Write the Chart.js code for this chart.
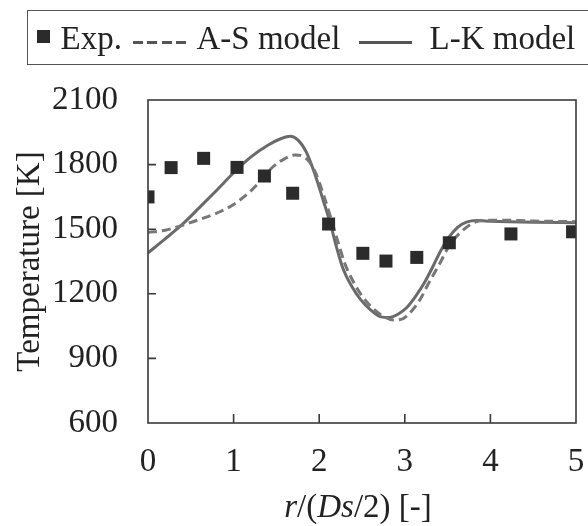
<!DOCTYPE html>
<html>
<head>
<meta charset="utf-8">
<script src="https://cdn.jsdelivr.net/npm/chart.js@4.4.0/dist/chart.umd.min.js"></script>
<style>
  html, body { margin: 0; padding: 0; background: #fff; }
  #wrap { position: relative; width: 588px; height: 526px; overflow: hidden; }
  #myChart { position: absolute; left: 0; top: 0; }
  .legend {
    position: absolute; left: 27px; top: 10px; width: 620px; height: 53px;
    border: 1.5px solid #555;
    font-family: "Liberation Serif", "Times New Roman", serif; font-size: 33px; color: #222;
  }
  .legend span { position: absolute; top: 11px; line-height: 33px; white-space: nowrap; }
  .legend .sq { position: absolute; left: 8.5px; top: 18.5px; width: 13px; height: 13px; background: #2b2b2b; }
  .legend .dash {
    position: absolute; left: 104.5px; top: 30px; width: 54px; height: 2.5px;
    background: repeating-linear-gradient(to right, #555 0 10px, transparent 10px 14.5px);
  }
  .legend .solid { position: absolute; left: 330.5px; top: 30px; width: 53px; height: 3px; background: #555; }
</style>
</head>
<body>
<div id="wrap">
  <canvas id="myChart" width="588" height="526"></canvas>
  <div class="legend">
    <div class="sq"></div><span style="left:32.5px">Exp.</span>
    <div class="dash"></div><span style="left:168.5px">A-S model</span>
    <div class="solid"></div><span style="left:401.5px">L-K model</span>
  </div>
</div>
<script>
// experimental points
let expR = [0, 0.27, 0.65, 1.04, 1.36, 1.69, 2.11, 2.51, 2.78, 3.14, 3.52, 4.24, 4.96];
let expT = [1650, 1786, 1829, 1787, 1747, 1667, 1524, 1388, 1352, 1369, 1437, 1478, 1488];

// A-S model (dashed)
let asR = [0, 0.2, 0.4, 0.6, 0.84, 1.0, 1.19, 1.35, 1.46, 1.6, 1.72, 1.8, 1.88, 1.96, 2.05, 2.13, 2.22, 2.3, 2.4, 2.5, 2.62, 2.75, 2.87, 2.98, 3.08, 3.18, 3.28, 3.41, 3.5, 3.57, 3.68, 3.78, 3.9, 4.1, 4.5, 5.0];
let asT = [1485, 1495, 1518, 1545, 1581, 1615, 1674, 1740, 1790, 1828, 1845, 1840, 1815, 1760, 1660, 1560, 1440, 1340, 1255, 1190, 1135, 1095, 1078, 1085, 1120, 1175, 1250, 1342, 1410, 1450, 1496, 1525, 1540, 1542, 1538, 1535];

// L-K model (solid)
let lkR = [0, 0.2, 0.4, 0.6, 0.8, 1.0, 1.2, 1.4, 1.55, 1.66, 1.75, 1.85, 1.95, 2.05, 2.13, 2.2, 2.28, 2.38, 2.48, 2.6, 2.72, 2.82, 2.92, 3.02, 3.12, 3.22, 3.32, 3.42, 3.52, 3.62, 3.72, 3.85, 4.0, 4.5, 5.0];
let lkT = [1390, 1455, 1522, 1600, 1680, 1762, 1835, 1890, 1920, 1932, 1915, 1858, 1755, 1630, 1527, 1420, 1315, 1235, 1175, 1125, 1093, 1090, 1105, 1135, 1185, 1245, 1320, 1400, 1465, 1510, 1533, 1540, 1537, 1532, 1530];

let xTicks = [0, 1, 2, 3, 4, 5];
let yTicks = [600, 900, 1200, 1500, 1800, 2100];

function toPoints(xs, ys) {
  return xs.map((x, i) => ({ x: x, y: ys[i] }));
}

let serif = "'Liberation Serif', 'Times New Roman', serif";

// box round the plot + inner tick marks + x title with italics
let framePlugin = {
  id: "frame",
  afterDraw(chart) {
    let ctx = chart.ctx;
    let a = chart.chartArea;
    let xs = chart.scales.x, ys = chart.scales.y;
    ctx.save();
    ctx.strokeStyle = "#3a3a3a";
    ctx.lineWidth = 1.6;
    ctx.strokeRect(a.left, a.top, a.right - a.left, a.bottom - a.top);
    ctx.beginPath();
    yTicks.slice(1, -1).forEach((v) => {
      let py = ys.getPixelForValue(v);
      ctx.moveTo(a.left, py);
      ctx.lineTo(a.left + 8, py);
    });
    xTicks.slice(1, -1).forEach((v) => {
      let px = xs.getPixelForValue(v);
      ctx.moveTo(px, a.bottom);
      ctx.lineTo(px, a.bottom - 9);
    });
    ctx.stroke();

    // r/(Ds/2) [-]
    let parts = [
      ["r", true], ["/(", false], ["D", true], ["s", true], ["/2) [-]", false],
    ];
    ctx.fillStyle = "#222";
    ctx.textBaseline = "alphabetic";
    ctx.textAlign = "left";
    let total = 0;
    parts.forEach((p) => {
      ctx.font = (p[1] ? "italic " : "") + "33px " + serif;
      total += ctx.measureText(p[0]).width;
    });
    let x = (a.left + a.right) / 2 - 4 - total / 2;
    parts.forEach((p) => {
      ctx.font = (p[1] ? "italic " : "") + "33px " + serif;
      ctx.fillText(p[0], x, 517);
      x += ctx.measureText(p[0]).width;
    });
    ctx.restore();
  },
};

let ctx = document.getElementById("myChart").getContext("2d");
let myChart = new Chart(ctx, {
  type: "scatter",
  data: {
    datasets: [
      {
        label: "Exp.",
        data: toPoints(expR, expT),
        pointStyle: "rect",
        pointRadius: 9.2,
        backgroundColor: "#2b2b2b",
        borderColor: "#2b2b2b",
        borderWidth: 0,
        showLine: false,
      },
      {
        label: "A-S model",
        data: toPoints(asR, asT),
        showLine: true,
        pointRadius: 0,
        borderColor: "#777",
        borderWidth: 3,
        borderDash: [9, 5],
        cubicInterpolationMode: "monotone",
      },
      {
        label: "L-K model",
        data: toPoints(lkR, lkT),
        showLine: true,
        pointRadius: 0,
        borderColor: "#6a6a6a",
        borderWidth: 3,
        cubicInterpolationMode: "monotone",
      },
    ],
  },
  options: {
    responsive: false,
    animation: false,
    layout: { padding: { top: 100, right: 12, left: 0, bottom: 0 } },
    plugins: { legend: { display: false }, tooltip: { enabled: false } },
    scales: {
      x: {
        type: "linear",
        min: 0,
        max: 5,
        afterFit: (s) => { s.height = 103; s.paddingLeft = 0; s.paddingRight = 0; },
        afterBuildTicks: (s) => { s.ticks = xTicks.map((v) => ({ value: v })); },
        grid: { display: false, drawTicks: false },
        border: { display: false },
        ticks: { padding: 20, color: "#222", font: { family: serif, size: 33 }, callback: (v) => String(v) },
      },
      y: {
        min: 600,
        max: 2100,
        afterFit: (s) => { s.width = 148; s.paddingTop = 0; s.paddingBottom = 0; },
        afterBuildTicks: (s) => { s.ticks = yTicks.map((v) => ({ value: v })); },
        grid: { display: false, drawTicks: false },
        border: { display: false },
        ticks: { padding: 30, color: "#222", font: { family: serif, size: 33 }, callback: (v) => String(v) },
        title: {
          display: true,
          text: "Temperature [K]",
          color: "#222",
          padding: { top: 11, bottom: 0 },
          font: { family: serif, size: 33 },
        },
      },
    },
  },
  plugins: [framePlugin],
});
</script>
</body>
</html>
